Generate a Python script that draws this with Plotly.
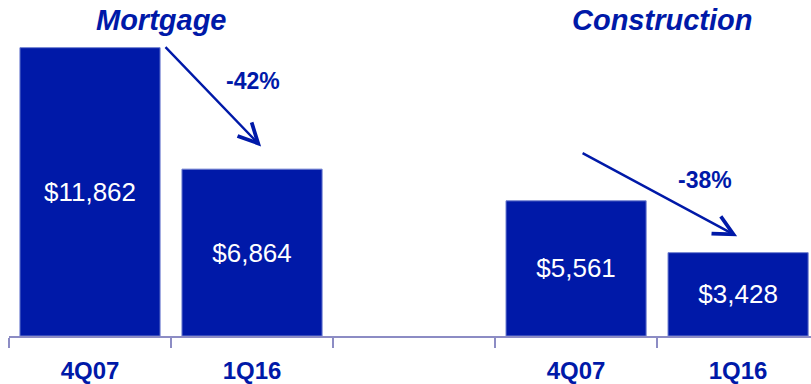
import plotly.graph_objects as go

# Data
positions = [0, 1, 3, 4]
categories = ["4Q07", "1Q16", "4Q07", "1Q16"]
values = [11862, 6864, 5561, 3428]
value_labels = ["$11,862", "$6,864", "$5,561", "$3,428"]
groups = ["Mortgage", "Construction"]
changes = ["-42%", "-38%"]

BLUE = "#0019A8"
AXIS = "#8C8CC4"
FONT = "Liberation Sans, Arial, sans-serif"

fig = go.Figure()
fig.add_trace(go.Bar(
    x=positions, y=values,
    text=value_labels, textposition="inside", insidetextanchor="middle",
    textfont=dict(family=FONT, size=26, color="white"),
    marker=dict(color=BLUE, line=dict(color="#6F7FD0", width=1)),
    width=0.865, hoverinfo="skip",
))

# group titles
for gx, name in zip([0.444, 3.531], groups):
    fig.add_annotation(x=gx, y=1.0, xref="x", yref="paper", text=f"<b><i>{name}</i></b>",
                       showarrow=False, yanchor="middle",
                       font=dict(family=FONT, size=29, color=BLUE))

# arrows
arrows = [((0.457, 11943), (1.056, 7800)), ((3.031, 7556), (3.994, 4103))]
for (x0, y0), (x1, y1) in arrows:
    fig.add_annotation(x=x1, y=y1, ax=x0, ay=y0, xref="x", yref="y", axref="x", ayref="y",
                       text="", showarrow=True, arrowhead=5, arrowsize=1.6, arrowwidth=2.4,
                       arrowcolor=BLUE)

# change labels
for (cx, cy), t in zip([(1.006, 10481), (3.796, 6418)], changes):
    fig.add_annotation(x=cx, y=cy, xref="x", yref="y", text=f"<b>{t}</b>", showarrow=False,
                       font=dict(family=FONT, size=23, color=BLUE))

fig.update_layout(
    width=811, height=384, margin=dict(l=9, r=0, t=20, b=44),
    paper_bgcolor="white", plot_bgcolor="white", showlegend=False,
    xaxis=dict(range=[-0.5, 4.45], tickmode="array", tickvals=positions, ticktext=categories,
               ticks="", showline=True, linecolor=AXIS, linewidth=2, showgrid=False, zeroline=False,
               tickfont=dict(family=FONT, size=24, color=BLUE, weight="bold"), ticklabelstandoff=12,
               minor=dict(tickmode="array", tickvals=[-0.5, 0.5, 1.5, 2.5, 3.5], ticks="outside",
                          ticklen=10, tickwidth=2, tickcolor=AXIS, showgrid=False),
               fixedrange=True),
    yaxis=dict(range=[0, 13000], visible=False, fixedrange=True),
    font=dict(family=FONT),
)

fig.write_html("out.html")
